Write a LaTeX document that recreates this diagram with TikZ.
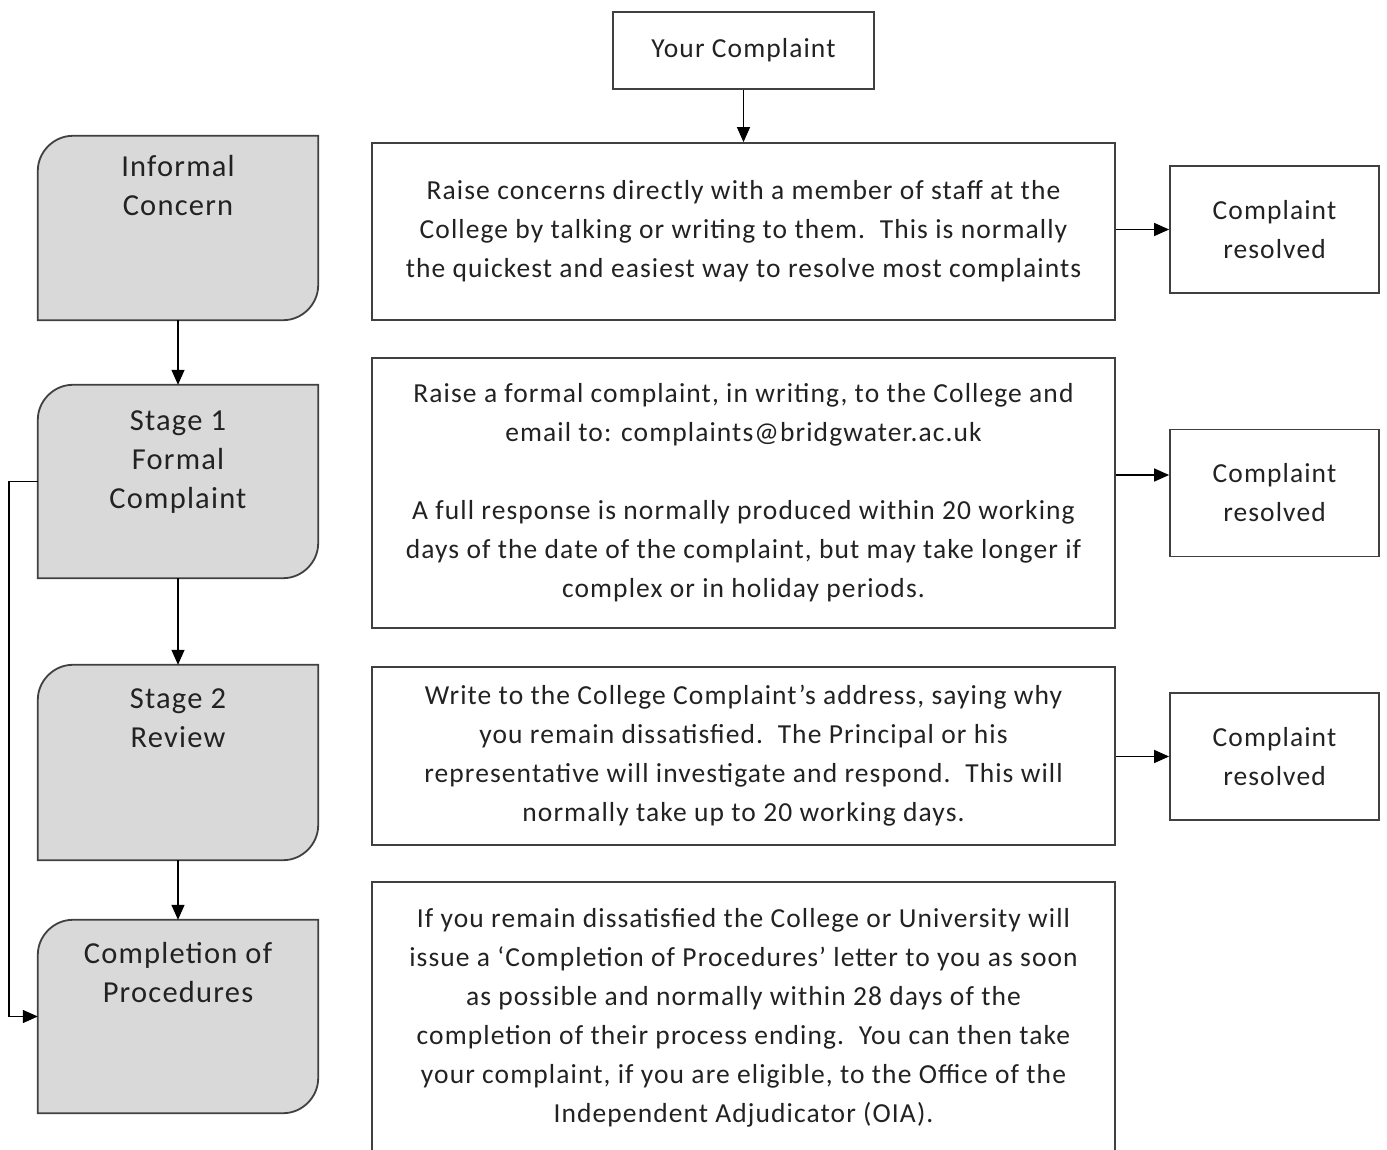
\documentclass[tikz,border=0pt]{standalone}
\usepackage{fontspec}
\setmainfont{Carlito}[LetterSpace=4]
\usetikzlibrary{arrows.meta,calc,backgrounds}
\definecolor{edgegray}{HTML}{404040}
\definecolor{boxgray}{HTML}{D9D9D9}
\definecolor{inkgray}{HTML}{222222}
\tikzset{
  x=1pt, y=-1pt,
  every node/.style={font=\fontsize{27.5}{39}\selectfont, text=inkgray},
  wbox/.style={draw=edgegray, line width=1.8pt, fill=white, inner sep=0pt, align=center},
  gbox/.style={inner sep=0pt, minimum width=280pt},
  gtext/.style={anchor=base, inner sep=0pt, align=center, font=\fontsize{30.5}{39}\selectfont},
  arr/.style={line width=1.4pt, -{Triangle[length=15pt,width=13pt]}},
  gshape/.style={draw=edgegray, line width=1.8pt, fill=boxgray},
}
\newcommand\grayoutline[1]{%
  \path[gshape] let \p1=(#1.north west), \p2=(#1.south east) in
    (\x1,\y2) -- (\x1,{\y1-35pt})
    .. controls (\x1,{\y1-16pt}) and ({\x1+16pt},\y1) .. ({\x1+35pt},\y1)
    -- (\x2,\y1) -- (\x2,{\y2+35pt})
    .. controls (\x2,{\y2+16pt}) and ({\x2-16pt},\y2) .. ({\x2-35pt},\y2)
    -- cycle;}
\begin{document}
\begin{tikzpicture}
\useasboundingbox[fill=white] (0,0) rectangle (1387,1150);

% top box
\node[wbox, minimum width=261pt, minimum height=77pt] (yc) at (743.5,50.5) {Your Complaint};

% white description boxes
\node[wbox, minimum width=743pt, minimum height=177pt] (b1) at (743.5,231.5)
  {Raise concerns directly with a member of staff at the\\
   College by talking or writing to them.\ \ This is normally\\
   the quickest and easiest way to resolve most complaints};
\node[wbox, minimum width=743pt, minimum height=270pt] (b2) at (743.5,493)
  {Raise a formal complaint, in writing, to the College and\\
   email to: complaints@bridgwater.ac.uk\\[39pt]
   A full response is normally produced within 20 working\\
   days of the date of the complaint, but may take longer if\\
   complex or in holiday periods.};
\node[wbox, minimum width=743pt, minimum height=178pt] (b3) at (743.5,756)
  {Write to the College Complaint's address, saying why\\
   you remain dissatisfied.\ \ The Principal or his\\
   representative will investigate and respond.\ \ This will\\
   normally take up to 20 working days.};
\node[wbox, minimum width=743pt, minimum height=272pt] (b4) at (743.5,1018)
  {If you remain dissatisfied the College or University will\\
   issue a `Completion of Procedures' letter to you as soon\\
   as possible and normally within 28 days of the\\
   completion of their process ending.\ \ You can then take\\
   your complaint, if you are eligible, to the Office of the\\
   Independent Adjudicator (OIA).};

% resolved boxes
\node[wbox, minimum width=209pt, minimum height=127pt] (r1) at (1274.5,229.5) {Complaint\\resolved};
\node[wbox, minimum width=209pt, minimum height=127pt] (r2) at (1274.5,493) {Complaint\\resolved};
\node[wbox, minimum width=209pt, minimum height=127pt] (r3) at (1274.5,756.5) {Complaint\\resolved};

% gray stage boxes
\node[gbox, minimum height=184pt] (inf) at (178,228) {};
\node[gbox, minimum height=193pt] (s1) at (178,481.5) {};
\node[gbox, minimum height=195pt] (s2) at (178,762.5) {};
\node[gbox, minimum height=193pt] (cp) at (178,1016.5) {};
\grayoutline{inf}
\grayoutline{s1}
\grayoutline{s2}
\grayoutline{cp}
\node[gtext] (infT) at ([yshift=-80pt]inf.north) {Informal\\Concern};
\node[gtext] (s1T) at ([yshift=-124pt]s1.north) {Stage 1\\Formal\\Complaint};
\node[gtext] (s2T) at ([yshift=-83pt]s2.north) {Stage 2\\Review};
\node[gtext] (cpT) at ([yshift=-83pt]cp.north) {Completion of\\Procedures};

% connectors
\draw[arr] (yc.south) -- (b1.north);
\draw[arr] (b1.east |- r1.west) -- (r1.west);
\coordinate (r2in) at ([yshift=18pt]r2.west);
\draw[arr] (b2.east |- r2in) -- (r2in);
\draw[arr] (b3.east |- r3.west) -- (r3.west);
\draw[arr] (inf.south) -- (s1.north);
\draw[arr] (s1.south) -- (s2.north);
\draw[arr] (s2.south) -- (cp.north);
\draw[arr] (s1.west) -- ++(-29,0) |- (cp.west);
\end{tikzpicture}
\end{document}
